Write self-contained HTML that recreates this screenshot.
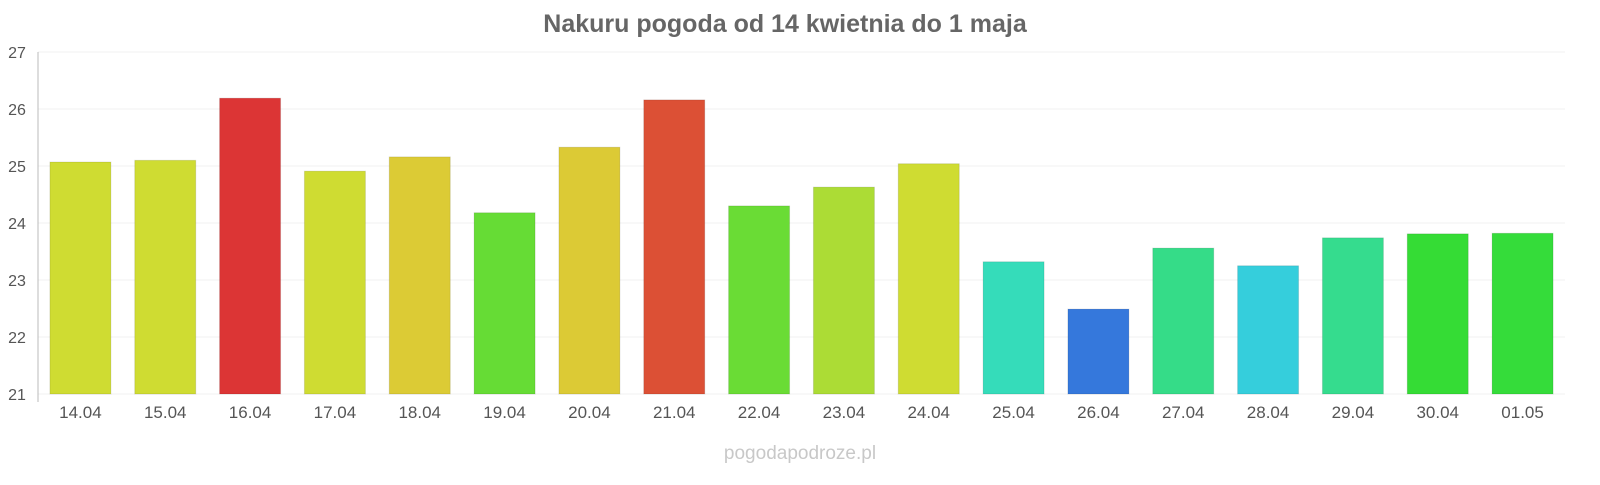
<!DOCTYPE html>
<html><head><meta charset="utf-8"><style>
body{margin:0;background:#fff;width:1600px;height:480px;overflow:hidden;font-family:"Liberation Sans",sans-serif}
</style></head><body>
<svg id="chart" width="1600" height="480" xmlns="http://www.w3.org/2000/svg">
<text x="785" y="32" text-anchor="middle" font-size="25" font-weight="bold" fill="#666">Nakuru pogoda od 14 kwietnia do 1 maja</text>
<text x="800" y="459" text-anchor="middle" font-size="19" fill="#c8c8c8">pogodapodroze.pl</text>
<g id="grid"></g><g id="bars"></g><g id="labels"></g>
</svg>
<script>
const categories=["14.04","15.04","16.04","17.04","18.04","19.04","20.04","21.04","22.04","23.04","24.04","25.04","26.04","27.04","28.04","29.04","30.04","01.05"];
const values=[25.07,25.1,26.19,24.91,25.16,24.18,25.33,26.16,24.3,24.63,25.04,23.32,22.49,23.56,23.25,23.74,23.81,23.82];
const colors=["#cfdc32","#cfdc32","#dc3535","#cfdc32","#dccb35","#66dc35","#dcca35","#dc5035","#6adc35","#acdc35","#cfdc32","#35dcba","#3578dc","#35dc88","#35cedc","#35dc8e","#35dc35","#35dc3a"];
const yTicks=[21,22,23,24,25,26,27];
const NS="http://www.w3.org/2000/svg";
const x0=38,x1=1565,yTop=52,yBot=394,yMin=21,yMax=27;
const y=v=>yBot-(v-yMin)/(yMax-yMin)*(yBot-yTop);
const slot=(x1-x0)/categories.length;
const xc=i=>x0+slot*(i+0.5);
const grid=document.getElementById('grid'),bars=document.getElementById('bars'),labels=document.getElementById('labels');
function mk(tag,attrs,parent){const e=document.createElementNS(NS,tag);for(const k in attrs)e.setAttribute(k,attrs[k]);parent.appendChild(e);return e;}
yTicks.forEach(t=>{
  const l=mk('line',{x1:x0,x2:x1,y1:y(t),y2:y(t),stroke:'#f0f0f0'},grid);
  
  
  const tx=mk('text',{x:17,y:y(t)+6,'text-anchor':'middle','font-size':16,fill:'#555'},labels);
  tx.textContent=t;
  
  
});
const ax=mk('line',{x1:x0,x2:x0,y1:yTop,y2:yBot+8,stroke:'#bbb'},grid);


categories.forEach((c,i)=>{
  const w=61;
  const r=mk('rect',{x:xc(i)-w/2,y:y(values[i]),width:w,height:yBot-y(values[i]),fill:colors[i],stroke:'rgba(0,0,0,0.1)'},bars);
  
  
  const tx=mk('text',{x:xc(i),y:418,'text-anchor':'middle','font-size':17,fill:'#555'},labels);
  tx.textContent=c;
  
  
});
</script>
</body></html>
